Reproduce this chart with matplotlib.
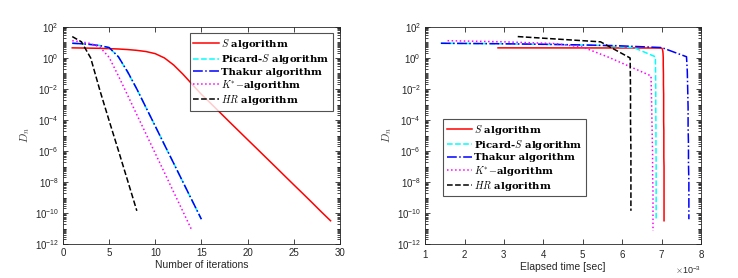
import matplotlib
matplotlib.use("Agg")
import matplotlib.pyplot as plt
import numpy as np
from matplotlib.ticker import LogLocator, ScalarFormatter, FixedLocator, NullFormatter

plt.rcParams['mathtext.fontset'] = 'cm'

# ---- data: error D_n per iteration ----
S_vals = [4.5, 4.4, 4.3, 4.2, 4.0, 3.8, 3.5, 3.1, 2.6, 1.9, 1.0, 0.35, 0.09, 0.02,
          4.5e-3, 1.2e-3, 3.1e-4, 8e-5, 2.1e-5, 5.5e-6, 1.45e-6, 3.8e-7, 1e-7,
          2.6e-8, 6.8e-9, 1.8e-9, 4.7e-10, 1.2e-10, 3.2e-11]
PicardS_vals = [8.9, 8.3, 7.4, 6.3, 4.6, 1.2, 0.12, 0.01, 6.2e-4, 4e-5, 2.5e-6,
                1.6e-7, 1e-8, 6.2e-10, 3.8e-11]
Thakur_vals = [8.9, 8.3, 7.4, 6.3, 4.7, 1.2, 0.13, 0.01, 6.3e-4, 4e-5, 2.5e-6,
               1.6e-7, 1e-8, 6.3e-10, 4e-11]
Kstar_vals = [13, 11, 8.5, 5.0, 1.1, 0.07, 4e-3, 2.2e-4, 1.26e-5, 7e-7, 4e-8,
              2.2e-9, 1.26e-10, 7e-12]
HR_vals = [24, 11, 1.0, 8e-3, 9e-5, 1.1e-6, 1.25e-8, 1.4e-10]

# ---- elapsed times (x 1e-3 sec) ----
S_time = [2.85, 6.99, 7.00, 7.005, 7.01, 7.015, 7.02, 7.025, 7.03, 7.035, 7.04,
          7.04, 7.045, 7.045, 7.05, 7.05, 7.05, 7.05, 7.055, 7.055, 7.055, 7.055,
          7.06, 7.06, 7.06, 7.06, 7.06, 7.06, 7.06]
PicardS_time = [1.4, 2.8, 4.2, 5.5, 6.3, 6.84, 6.845, 6.85, 6.85, 6.855, 6.855,
                6.86, 6.86, 6.86, 6.86]
Thakur_time = [1.4, 2.9, 4.4, 5.8, 7.0, 7.63, 7.65, 7.66, 7.67, 7.67, 7.68,
               7.68, 7.69, 7.69, 7.69]
Kstar_time = [1.57, 3.0, 4.3, 5.0, 5.66, 6.73, 6.74, 6.75, 6.76, 6.77, 6.77,
              6.78, 6.78, 6.78]
HR_time = [3.35, 5.45, 6.2, 6.21, 6.21, 6.22, 6.22, 6.22]

labels = [r'$S$ algorithm', r'Picard-$S$ algorithm', 'Thakur algorithm',
          r'$K^{*}$$-$algorithm', r'$HR$ algorithm']
colors = ['#ff0000', '#00ffff', '#0000ff', '#ff00ff', '#000000']
styles = ['-', '--', '-.', ':', '--']

fig = plt.figure(figsize=(7.38, 2.78), dpi=100)
ax1 = fig.add_axes([0.0854, 0.122, 0.375, 0.781])
ax2 = fig.add_axes([0.576, 0.122, 0.374, 0.781])

series = [S_vals, PicardS_vals, Thakur_vals, Kstar_vals, HR_vals]
times = [S_time, PicardS_time, Thakur_time, Kstar_time, HR_time]

for vals, lab, c, ls in zip(series, labels, colors, styles):
    n = np.arange(1, len(vals) + 1)
    ax1.semilogy(n, vals, color=c, linestyle=ls, lw=1.1, label=lab)
for vals, t, lab, c, ls in zip(series, times, labels, colors, styles):
    ax2.semilogy(np.array(t) * 1e-3, vals, color=c, linestyle=ls, lw=1.1, label=lab)

for ax in (ax1, ax2):
    ax.set_ylim(1e-12, 1e2)
    ax.yaxis.set_major_locator(FixedLocator([10.0**k for k in range(-12, 3, 2)]))
    ax.yaxis.set_minor_locator(LogLocator(base=10, subs=np.arange(1, 10), numticks=100))
    ax.yaxis.set_minor_formatter(NullFormatter())
    ax.tick_params(which='both', direction='in', top=True, right=True,
                   colors='#262626', labelcolor='#262626', width=0.6)
    ax.tick_params(which='major', length=3.5, labelsize=7, pad=3)
    ax.tick_params(which='minor', length=2)
    for lab in ax.get_xticklabels() + ax.get_yticklabels():
        lab.set_family('Liberation Sans')
    for sp in ax.spines.values():
        sp.set_color('#262626')
        sp.set_linewidth(0.6)
    ax.set_ylabel(r'$D_n$', fontsize=8, color='#404040', labelpad=2)

ax1.set_xlim(0, 30)
ax1.set_xticks([0, 5, 10, 15, 20, 25, 30])
ax1.set_xlabel('Number of iterations', family='Liberation Sans', fontsize=7.5,
               color='#262626', labelpad=1)

ax2.set_xlim(1e-3, 8e-3)
ax2.set_xticks([k * 1e-3 for k in range(1, 9)])
fmt = ScalarFormatter(useMathText=True)
fmt.set_powerlimits((-2, 2))
ax2.xaxis.set_major_formatter(fmt)
ax2.xaxis.get_offset_text().set_fontsize(6.5)
ax2.xaxis.get_offset_text().set_family('Liberation Sans')
ax2.set_xlabel('Elapsed time [sec]', family='Liberation Sans', fontsize=7.5,
               color='#262626', labelpad=1)

leg_font = dict(family='DejaVu Serif', weight='bold', size=7.3)
leg_kw = dict(prop=leg_font, frameon=True, fancybox=False, edgecolor='#262626',
              handlelength=2.5, handletextpad=0.2, borderpad=0.35,
              labelspacing=0.12)
leg1 = ax1.legend(loc='upper right', bbox_to_anchor=(0.975, 0.97),
                  borderaxespad=0.0, **leg_kw)
leg1.get_frame().set_linewidth(0.8)
leg2 = ax2.legend(loc='upper left', bbox_to_anchor=(0.065, 0.575),
                  borderaxespad=0.0, **leg_kw)
leg2.get_frame().set_linewidth(0.8)

fig.savefig('out.png', dpi=100)
